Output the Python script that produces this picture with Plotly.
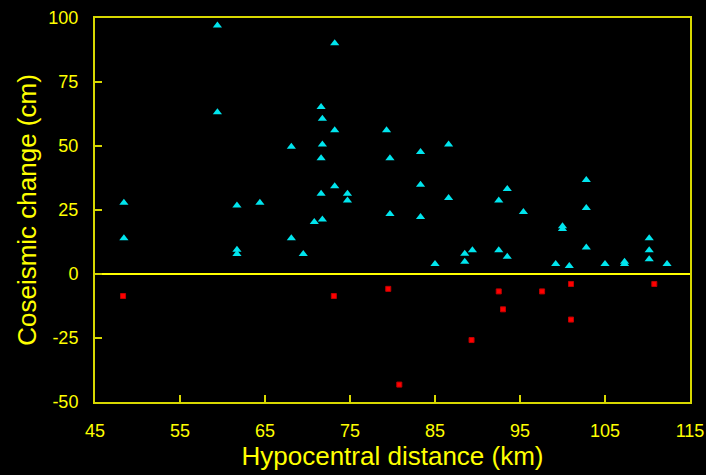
import plotly.graph_objects as go

# Uplift (positive) stations: hypocentral distance (km), coseismic change (cm)
up_dist = [59.4, 73.2, 59.4, 71.6, 71.75, 73.2, 79.3, 68.1, 71.75, 71.6, 79.7,
           73.2, 71.6, 74.7, 74.7, 48.4, 61.7, 64.4, 83.3, 86.6, 83.3, 86.6,
           93.5, 92.5, 102.8, 102.8, 79.7, 70.8, 71.75, 48.4, 68.1, 61.7, 61.7,
           69.5, 83.3, 95.4, 100.0, 100.0, 110.2, 110.2, 110.2, 88.5, 89.4,
           88.5, 85.0, 92.5, 93.5, 99.2, 100.8, 102.8, 105.0, 107.3, 107.3, 112.3]
up_val = [97.1, 90.1, 63.2, 65.2, 60.6, 56.2, 56.2, 49.7, 50.6, 45.2, 45.2,
          34.3, 31.3, 31.3, 28.7, 27.8, 26.8, 27.8, 47.7, 50.6, 34.9, 29.7,
          33.2, 28.7, 36.7, 25.8, 23.4, 20.3, 21.3, 14.0, 14.0, 9.5, 7.8,
          7.8, 22.3, 24.2, 18.7, 17.6, 14.0, 9.3, 5.8, 7.9, 9.3,
          4.8, 3.9, 9.3, 6.7, 3.9, 3.1, 10.4, 3.9, 4.8, 3.9, 3.9]

# Subsidence (negative) stations
down_dist = [48.3, 73.1, 79.5, 80.8, 92.5, 97.6, 101.0, 110.8, 93.0, 101.0, 89.3]
down_val = [-8.6, -8.6, -5.8, -43.2, -6.8, -6.8, -3.9, -3.9, -13.8, -17.8, -25.8]

x_ticks = [45, 55, 65, 75, 85, 95, 105, 115]
y_ticks = [-50, -25, 0, 25, 50, 75, 100]
y_ticktext = ["-50", "-25", "0", "25", "50", "75", "100"]

YEL = "#ffff00"
FRAME = "#d8d800"

fig = go.Figure()
fig.add_trace(go.Scatter(
    x=up_dist, y=up_val, mode="markers",
    marker=dict(symbol="triangle-up", size=8, color="#00e5ee",
                line=dict(width=0)),
    showlegend=False, cliponaxis=False))
fig.add_trace(go.Scatter(
    x=down_dist, y=down_val, mode="markers",
    marker=dict(symbol="square", size=5, color="#ff0000",
                line=dict(width=1, color="#c00000")),
    showlegend=False, cliponaxis=False))

font = "Liberation Sans, Arial, sans-serif"
fig.update_layout(
    width=706, height=475,
    paper_bgcolor="black", plot_bgcolor="black",
    margin=dict(l=95, r=16, t=18, b=73),
    font=dict(family=font, color=YEL, size=18),
    xaxis=dict(range=[45, 115], tickvals=x_ticks, ticks="inside", ticklen=7,
               tickwidth=2, tickcolor=FRAME, showgrid=False, zeroline=False,
               showline=True, linecolor=FRAME, linewidth=2, mirror=True,
               automargin=False, ticklabelstandoff=11,
               tickfont=dict(size=18, color=YEL),
               title=dict(text="Hypocentral distance (km)",
                          font=dict(size=26, color=YEL), standoff=6)),
    yaxis=dict(range=[-50, 100], tickvals=y_ticks, ticktext=y_ticktext,
               ticks="inside", ticklen=7,
               tickwidth=2, tickcolor=FRAME, showgrid=False,
               zeroline=True, zerolinecolor=YEL, zerolinewidth=2,
               showline=True, linecolor=FRAME, linewidth=2, mirror=True,
               automargin=False, ticklabelstandoff=11,
               tickfont=dict(size=18, color=YEL),
               title=dict(text="Coseismic change (cm)",
                          font=dict(size=26, color=YEL), standoff=4)),
)
fig.write_html("out.html")
